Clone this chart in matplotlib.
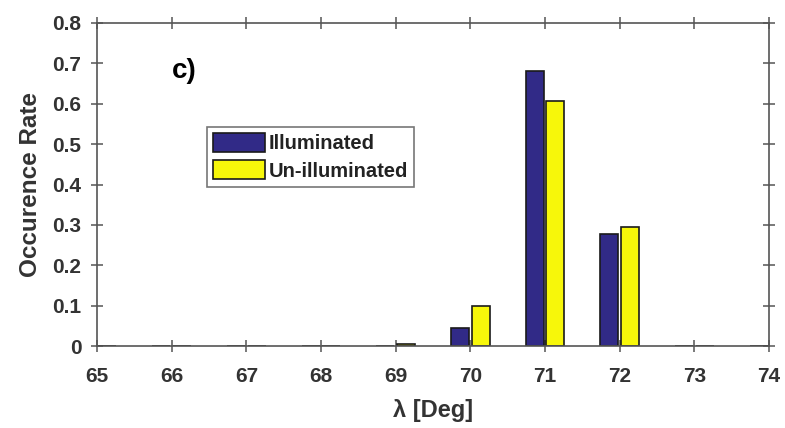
import matplotlib
matplotlib.use("Agg")
import matplotlib.pyplot as plt
import numpy as np

plt.rcParams['font.family'] = ['Liberation Sans', 'DejaVu Sans']

categories = [65, 66, 67, 68, 69, 70, 71, 72, 73, 74]
illuminated = [0, 0, 0, 0, 0, 0.045, 0.682, 0.278, 0, 0]
unilluminated = [0, 0, 0, 0, 0.004, 0.098, 0.607, 0.294, 0, 0]
xticks = [65, 66, 67, 68, 69, 70, 71, 72, 73, 74]
yticks = [0, 0.1, 0.2, 0.3, 0.4, 0.5, 0.6, 0.7, 0.8]
ytick_labels = ['0', '0.1', '0.2', '0.3', '0.4', '0.5', '0.6', '0.7', '0.8']

fig = plt.figure(figsize=(7.85, 4.28), dpi=100)
ax = fig.add_axes([97/785, 1-346/428, (769-97)/785, (346-23)/428])

x = np.array(categories, dtype=float)
w = 0.24
off = 0.14
ax.bar(x - off, illuminated, width=w, color='#312a87', edgecolor='#1a1a1a', linewidth=1.2, label='Illuminated', zorder=2)
ax.bar(x + off, unilluminated, width=w, color='#f7f70a', edgecolor='#1a1a1a', linewidth=1.2, label='Un-illuminated', zorder=2)

ax.set_xlim(65, 74)
ax.set_ylim(0, 0.8)
ax.set_xticks(xticks)
ax.set_yticks(yticks)
ax.set_yticklabels(ytick_labels)
axcol = '#555555'
for s in ax.spines.values():
    s.set_color(axcol)
    s.set_linewidth(1.2)
ax.tick_params(direction='inout', length=8.6, width=1.1, color=axcol, top=True, right=True,
               labelsize=15, labelcolor='#333333')
ax.tick_params(axis='y', pad=7)
ax.tick_params(axis='x', pad=11)
for lab in ax.get_xticklabels() + ax.get_yticklabels():
    lab.set_fontweight('bold')

ax.set_xlabel('λ [Deg]', fontsize=17, fontweight='bold', color='#333333', labelpad=9)
ax.set_ylabel('Occurence Rate', fontsize=17.5, fontweight='bold', color='#333333', labelpad=7)

ax.text(0.112, 0.83, 'c)', transform=ax.transAxes, fontsize=20, fontweight='bold',
        color='black', va='baseline', ha='left')

leg = ax.legend(loc='upper left', bbox_to_anchor=(0.1637, 0.678), frameon=True, fancybox=False,
                edgecolor='#555555', prop={'weight': 'bold', 'size': 14.5},
                handlelength=2.6, handleheight=1.05, handletextpad=0.15, borderpad=0.3,
                labelspacing=0.35, borderaxespad=0)
leg.get_frame().set_linewidth(1.2)
for t in leg.get_texts():
    t.set_color('#222222')

fig.savefig('out.png', dpi=100)
